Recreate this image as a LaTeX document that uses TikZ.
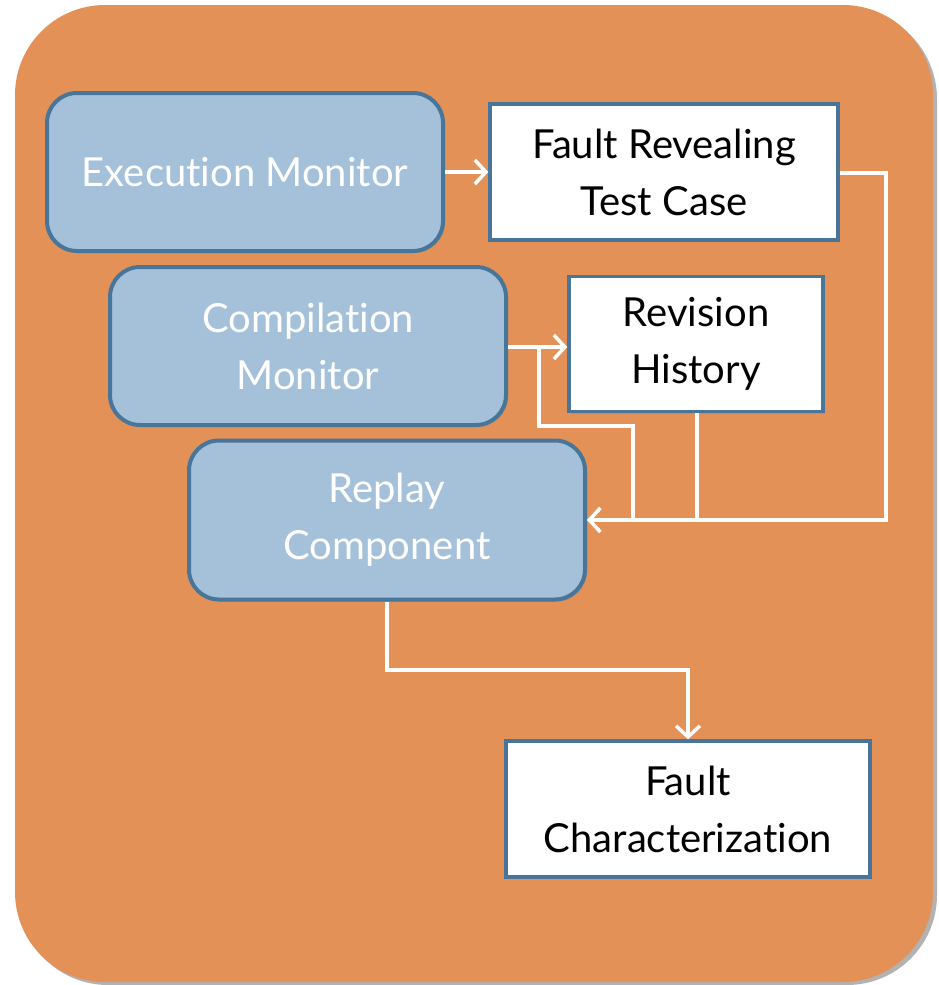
\documentclass[tikz,border=0pt]{standalone}
\usepackage{fontspec}
\setmainfont{Lato}[Ligatures=NoCommon]
\usetikzlibrary{arrows.meta,shadows}
\definecolor{bgorange}{HTML}{E39157}
\definecolor{boxblue}{HTML}{A5C1D9}
\definecolor{edgeblue}{HTML}{48759A}
\tikzset{
  monbox/.style={draw=edgeblue, line width=4pt, fill=boxblue, rounded corners=30pt,
    text=white, font=\fontsize{40}{57}\selectfont, align=center, inner sep=0pt,
    drop shadow={shadow xshift=2pt, shadow yshift=-2pt, opacity=0.35}},
  whitebox/.style={draw=edgeblue, line width=3.5pt, fill=white,
    text=black, font=\fontsize{40}{57}\selectfont, align=center, inner sep=0pt,
    drop shadow={shadow xshift=2pt, shadow yshift=-2pt, opacity=0.35}},
  conn/.style={draw=white, line width=3.5pt},
  arr/.style={conn, -{Straight Barb[length=11pt,width=24pt,line width=3.5pt]}},
}
\begin{document}
\begin{tikzpicture}[x=1pt,y=-1pt]
\useasboundingbox (0,0) rectangle (938,985);
\fill[white] (0,0) rectangle (938,985);
\fill[black,opacity=0.3,rounded corners=90pt] (18,9) rectangle (937,985);
\fill[bgorange,rounded corners=90pt] (15,5) rectangle (933,982);

\node[monbox, minimum width=396pt, minimum height=158pt] (exec) at (245,172) {Execution Monitor};
\node[whitebox, minimum width=348pt, minimum height=136pt] (frtc) at (664,172) {Fault Revealing\\Test Case};
\node[monbox, minimum width=396pt, minimum height=158pt] (comp) at (308,346) {Compilation\\Monitor};
\node[whitebox, minimum width=254pt, minimum height=135pt] (rev) at (696,344) {Revision\\History};
\node[monbox, minimum width=396pt, minimum height=159pt] (replay) at (387,520) {Replay\\Component};
\node[whitebox, minimum width=364pt, minimum height=136pt] (fault) at (688,809) {Fault\\Characterization};

\coordinate (br) at (539,347);
\coordinate (tr) at (886,173);
\coordinate (j) at (633,520);

\draw[arr] (exec.east |- frtc.west) -- (frtc.west);
\draw[arr] (comp.east |- br) -- (rev.west |- br);
\draw[conn] (br) -- (539,426) -- (633,426) -- (j);
\draw[conn] (rev.south -| 697,0) -- (697,520);
\draw[arr] (frtc.east |- tr) -- (tr) -- (886,520) -- (replay.east);
\draw[arr] (replay.south -| 387,0) -- (387,670) -- (688,670) -- (fault.north);
\end{tikzpicture}
\end{document}
